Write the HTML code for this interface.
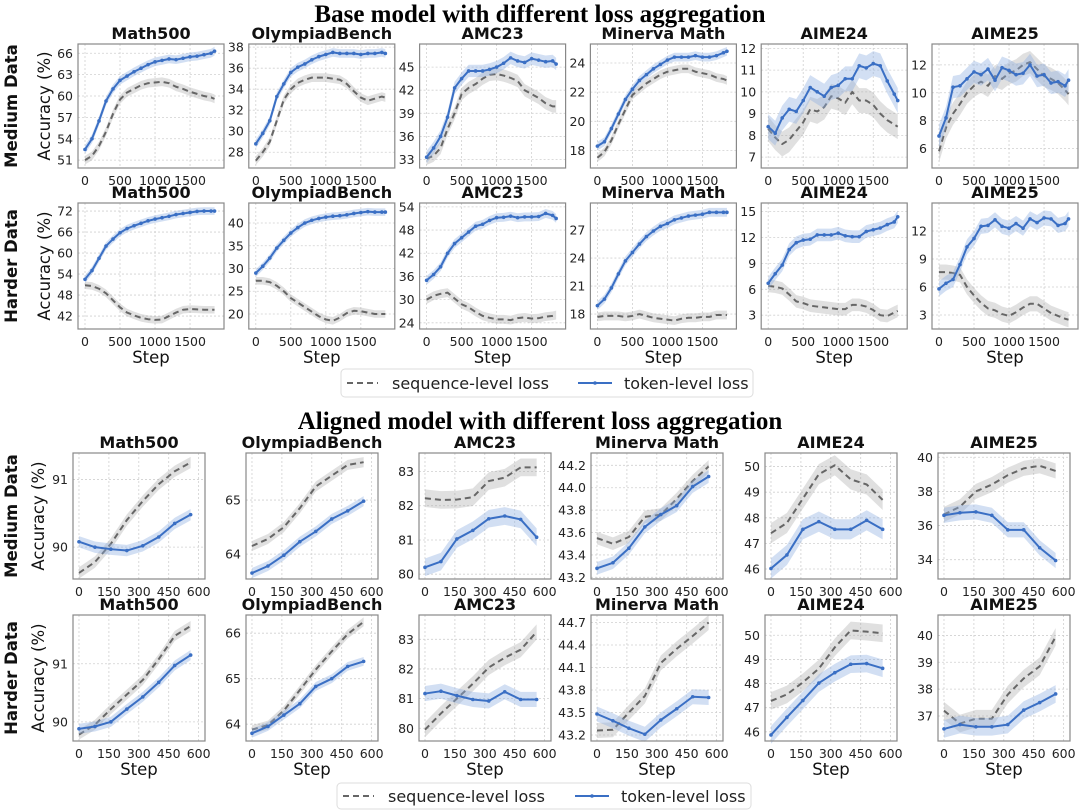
<!DOCTYPE html>
<html><head><meta charset="utf-8"><style>
html,body{margin:0;padding:0;background:#fff;}
svg{display:block;font-family:"DejaVu Sans","Liberation Sans",sans-serif;}
</style></head><body>
<svg id="fig" width="1080" height="811" viewBox="0 0 1080 811" xmlns="http://www.w3.org/2000/svg">
<text x="540" y="22" text-anchor="middle" font-family="Liberation Serif, serif" font-weight="bold" font-size="25">Base model with different loss aggregation</text>
<text x="540" y="429" text-anchor="middle" font-family="Liberation Serif, serif" font-weight="bold" font-size="25">Aligned model with different loss aggregation</text>
<g id="legend1">
<rect x="341" y="369" width="412" height="28" rx="4" fill="#fff" stroke="#ddd"/>
<line x1="347" y1="383" x2="378" y2="383" stroke="#666" stroke-width="2" stroke-dasharray="6,4"/>
<text x="392" y="389" font-size="16" fill="#222">sequence-level loss</text>
<line x1="578" y1="383" x2="612" y2="383" stroke="#3a6fc4" stroke-width="2"/>
<circle cx="595" cy="383" r="1.8" fill="#3a6fc4"/>
<text x="624" y="389" font-size="16" fill="#222">token-level loss</text>
</g>
<g id="legend2">
<rect x="337" y="783" width="414" height="26" rx="4" fill="#fff" stroke="#ddd"/>
<line x1="343" y1="796" x2="374" y2="796" stroke="#666" stroke-width="2" stroke-dasharray="6,4"/>
<text x="388" y="802" font-size="16" fill="#222">sequence-level loss</text>
<line x1="575" y1="796" x2="609" y2="796" stroke="#3a6fc4" stroke-width="2"/>
<circle cx="592" cy="796" r="1.8" fill="#3a6fc4"/>
<text x="621" y="802" font-size="16" fill="#222">token-level loss</text>
</g>
</svg>
<script>
const baseSteps = [0,100,200,300,400,500,600,700,800,900,1000,1100,1200,1300,1400,1500,1600,1700,1800,1850];
const alignSteps = [0,80,160,240,320,400,480,560];
const baseXTicks = [0,500,1000,1500];
const alignXTicks = [0,150,300,450,600];

const bMedMath500Tok = [52.5,54,56.5,59.3,61,62.2,62.8,63.4,63.9,64.4,64.8,65.0,65.2,65.1,65.3,65.5,65.6,65.8,66.0,66.3];
const bMedMath500Seq = [51,51.6,53,55,57.5,59.5,60.5,61,61.5,61.8,61.9,62,61.8,61.3,61,60.6,60.3,60,59.8,59.6];
const bMedMath500Ticks = [51,54,57,60,63,66];
const bMedOlyTok = [28.8,29.8,31,33.3,34.5,35.6,36.1,36.4,36.8,37.1,37.3,37.5,37.4,37.4,37.4,37.3,37.4,37.4,37.5,37.4];
const bMedOlySeq = [27.2,28,29,31,33,34,34.6,34.9,35.1,35.1,35.1,35.0,34.9,34.5,33.8,33.2,32.9,33.1,33.3,33.2];
const bMedOlyTicks = [28,30,32,34,36,38];
const bMedAmcTok = [33.3,34.5,36,38.5,42.3,43.5,44.5,44.5,44.5,44.7,45,45.5,46.2,45.8,45.6,46.1,45.9,45.7,45.8,45.4];
const bMedAmcSeq = [33.1,33.5,34.5,37,39,41.5,42.3,42.8,43.5,44,44.1,43.9,43.6,43.2,42,41.5,41,40.3,39.9,39.9];
const bMedAmcTicks = [33,36,39,42,45];
const bMedMinTok = [18.3,18.6,19.5,20.5,21.5,22.2,22.8,23.2,23.6,23.9,24.2,24.4,24.4,24.4,24.5,24.4,24.4,24.5,24.7,24.8];
const bMedMinSeq = [17.5,17.9,18.7,19.8,20.8,21.8,22.2,22.6,22.9,23.2,23.4,23.5,23.6,23.6,23.4,23.3,23.2,23.0,22.9,22.8];
const bMedMinTicks = [18,20,22,24];
const bMedA24Tok = [8.4,8.1,8.8,9.2,9.1,9.6,10.2,10.0,9.8,10.2,10.3,10.6,10.6,11.2,11.1,11.3,11.2,10.5,9.9,9.6];
const bMedA24Seq = [8.3,7.9,7.6,7.8,8.2,8.6,9.2,9.1,9.3,9.8,9.7,9.5,10.0,9.6,9.6,9.4,9.0,8.7,8.5,8.4];
const bMedA24Ticks = [7,8,9,10,11,12];
const bMedA25Tok = [6.9,8.2,10.4,10.5,11.0,11.5,11.3,11.7,10.9,11.8,11.6,11.3,11.4,12.0,11.2,11.3,10.7,10.8,10.5,10.9];
const bMedA25Seq = [5.8,7.5,8.5,9.2,10.0,10.5,10.8,10.5,11.2,11.0,11.4,11.6,12.0,12.2,11.7,11.2,11.0,10.7,10.2,9.9];
const bMedA25Ticks = [6,8,10,12];

const bHardMath500Tok = [52.5,55,58.5,62,64,65.8,67,67.8,68.5,69.2,69.7,70.1,70.5,71,71.3,71.6,71.9,72,72,72];
const bHardMath500Seq = [50.8,50.6,49.8,48.5,46.5,44.5,43,42.2,41.5,41.1,40.9,41,42,43,43.8,44,43.9,43.8,43.8,43.8];
const bHardMath500Ticks = [42,48,54,60,66,72];
const bHardOlyTok = [29,30.5,32.3,34.5,36.2,37.8,39,40,40.6,41,41.3,41.5,41.6,41.8,42.1,42.3,42.5,42.4,42.4,42.4];
const bHardOlySeq = [27.3,27.3,27,26.2,25,23.5,22.5,21.5,20.5,19.5,18.8,18.5,19.2,20.2,20.7,20.6,20.3,20.0,20.0,20.0];
const bHardOlyTicks = [20,25,30,35,40];
const bHardAmcTok = [35,36.5,38.5,42,44.5,46,47.5,49,49.5,50.5,51.2,51.3,51.6,51.2,51.4,51.4,51.5,52.3,51.8,51.0];
const bHardAmcSeq = [30,31,31.5,31.8,30.3,28.8,28,26.8,25.8,25.3,24.9,24.9,24.7,25.2,25.4,25.1,25.2,25.6,25.8,26.0];
const bHardAmcTicks = [24,30,36,42,48,54];
const bHardMinTok = [18.9,19.6,20.8,22.3,23.7,24.6,25.5,26.3,26.9,27.4,27.7,28.1,28.3,28.5,28.6,28.7,28.9,28.9,28.9,28.9];
const bHardMinSeq = [17.7,17.8,17.8,17.8,17.7,17.8,18.0,17.8,17.6,17.5,17.4,17.3,17.5,17.6,17.6,17.7,17.7,17.9,17.9,17.9];
const bHardMinTicks = [18,21,24,27];
const bHardA24Tok = [6.7,7.8,8.8,10.6,11.4,11.7,11.8,12.3,12.3,12.3,12.5,12.2,12.1,12.1,12.7,12.9,13.1,13.5,13.8,14.4];
const bHardA24Seq = [6.4,6.3,6.1,5.4,4.6,4.4,4.1,4.0,3.9,3.8,3.7,3.7,4.2,4.2,4.0,3.6,3.0,2.9,3.3,3.5];
const bHardA24Ticks = [3,6,9,12,15];
const bHardA25Tok = [5.8,6.4,6.8,8.4,10.3,11.2,12.5,12.6,13.2,12.5,12.3,12.8,12.3,13.3,12.9,13.4,13.3,12.6,12.8,13.3];
const bHardA25Seq = [7.6,7.6,7.5,7.3,6.0,5.1,4.3,3.7,3.5,3.1,2.9,3.3,3.8,4.2,4.2,3.7,3.2,2.9,2.6,2.5];
const bHardA25Ticks = [3,6,9,12];

const aMedMath500Tok = [90.08,90.0,89.97,89.95,90.02,90.15,90.35,90.48];
const aMedMath500Seq = [89.62,89.78,90.05,90.4,90.68,90.93,91.12,91.25];
const aMedMath500Ticks = [90,91];
const aMedOlyTok = [63.65,63.78,63.98,64.23,64.42,64.65,64.8,64.98];
const aMedOlySeq = [64.15,64.28,64.5,64.85,65.25,65.45,65.65,65.7];
const aMedOlyTicks = [64,65];
const aMedAmcTok = [80.2,80.37,81.03,81.28,81.62,81.7,81.6,81.08];
const aMedAmcSeq = [82.22,82.17,82.18,82.25,82.72,82.82,83.12,83.12];
const aMedAmcTicks = [80,81,82,83];
const aMedMinTok = [43.28,43.33,43.46,43.65,43.76,43.84,44.01,44.1];
const aMedMinSeq = [43.55,43.5,43.56,43.74,43.76,43.9,44.06,44.19];
const aMedMinTicks = [43.2,43.4,43.6,43.8,44.0,44.2];
const aMedA24Tok = [46.02,46.55,47.55,47.85,47.55,47.55,47.9,47.55];
const aMedA24Seq = [47.4,47.8,48.75,49.7,50.05,49.5,49.3,48.7];
const aMedA24Ticks = [46,47,48,49,50];
const aMedA25Tok = [36.6,36.75,36.8,36.6,35.75,35.75,34.7,33.95];
const aMedA25Seq = [36.65,37.1,38.0,38.4,38.95,39.35,39.5,39.2];
const aMedA25Ticks = [34,36,38,40];

const aHardMath500Tok = [89.88,89.92,90.0,90.22,90.43,90.68,90.97,91.15];
const aHardMath500Seq = [89.78,89.95,90.22,90.47,90.72,91.08,91.48,91.65];
const aHardMath500Ticks = [90,91];
const aHardOlyTok = [63.8,63.95,64.2,64.45,64.83,65.0,65.27,65.38];
const aHardOlySeq = [63.88,63.98,64.3,64.75,65.2,65.6,65.98,66.25];
const aHardOlyTicks = [64,65,66];
const aHardAmcTok = [81.17,81.25,81.1,80.97,80.92,81.23,80.97,80.97];
const aHardAmcSeq = [79.95,80.5,81.0,81.5,82.05,82.38,82.65,83.25];
const aHardAmcTicks = [80,81,82,83];
const aHardMinTok = [43.48,43.39,43.29,43.21,43.4,43.55,43.71,43.7];
const aHardMinSeq = [43.26,43.27,43.5,43.72,44.16,44.35,44.52,44.7];
const aHardMinTicks = [43.2,43.5,43.8,44.1,44.4,44.7];
const aHardA24Tok = [45.87,46.6,47.3,48.02,48.45,48.8,48.83,48.63];
const aHardA24Seq = [47.28,47.55,48.05,48.62,49.5,50.2,50.15,50.08];
const aHardA24Ticks = [46,47,48,49,50];
const aHardA25Tok = [36.52,36.68,36.6,36.6,36.68,37.22,37.5,37.82];
const aHardA25Seq = [37.2,36.72,36.9,36.9,37.8,38.4,38.85,39.95];
const aHardA25Ticks = [37,38,39,40];

const titles = ['Math500','OlympiadBench','AMC23','Minerva Math','AIME24','AIME25'];
const NS = 'http://www.w3.org/2000/svg';
const svg = document.getElementById('fig');

function mk(tag, attrs, parent){
  const e = document.createElementNS(NS, tag);
  for (const k in attrs) e.setAttribute(k, attrs[k]);
  (parent||svg).appendChild(e);
  return e;
}

const topLayout = {lefts:[78,248.8,419.6,590.4,761.2,932], w:146, xlim:[-100,1985]};
const botLayout = {lefts:[73,246,419,591,765,938], w:132, xlim:[-30,632]};

const panels = [
 {row:[44,168],L:topLayout,c:0,x:baseSteps,tok:bMedMath500Tok,seq:bMedMath500Seq,yt:bMedMath500Ticks,yl:[49.9,67.3],xt:baseXTicks,bw:0.035,dec:0,step:false},
 {row:[44,168],L:topLayout,c:1,x:baseSteps,tok:bMedOlyTok,seq:bMedOlySeq,yt:bMedOlyTicks,yl:[26.5,38.3],xt:baseXTicks,bw:0.035,dec:0,step:false},
 {row:[44,168],L:topLayout,c:2,x:baseSteps,tok:bMedAmcTok,seq:bMedAmcSeq,yt:bMedAmcTicks,yl:[31.9,48],xt:baseXTicks,bw:0.05,dec:0,step:false},
 {row:[44,168],L:topLayout,c:3,x:baseSteps,tok:bMedMinTok,seq:bMedMinSeq,yt:bMedMinTicks,yl:[16.8,25.3],xt:baseXTicks,bw:0.035,dec:0,step:false},
 {row:[44,168],L:topLayout,c:4,x:baseSteps,tok:bMedA24Tok,seq:bMedA24Seq,yt:bMedA24Ticks,yl:[6.5,12.2],xt:baseXTicks,bw:0.1,dec:0,step:false},
 {row:[44,168],L:topLayout,c:5,x:baseSteps,tok:bMedA25Tok,seq:bMedA25Seq,yt:bMedA25Ticks,yl:[4.6,13.5],xt:baseXTicks,bw:0.09,dec:0,step:false},
 {row:[203,329],L:topLayout,c:0,x:baseSteps,tok:bHardMath500Tok,seq:bHardMath500Seq,yt:bHardMath500Ticks,yl:[38.3,74.3],xt:baseXTicks,bw:0.03,dec:0,step:true},
 {row:[203,329],L:topLayout,c:1,x:baseSteps,tok:bHardOlyTok,seq:bHardOlySeq,yt:bHardOlyTicks,yl:[16.7,44.4],xt:baseXTicks,bw:0.03,dec:0,step:true},
 {row:[203,329],L:topLayout,c:2,x:baseSteps,tok:bHardAmcTok,seq:bHardAmcSeq,yt:bHardAmcTicks,yl:[22.4,55],xt:baseXTicks,bw:0.035,dec:0,step:true},
 {row:[203,329],L:topLayout,c:3,x:baseSteps,tok:bHardMinTok,seq:bHardMinSeq,yt:bHardMinTicks,yl:[16.4,29.9],xt:baseXTicks,bw:0.035,dec:0,step:true},
 {row:[203,329],L:topLayout,c:4,x:baseSteps,tok:bHardA24Tok,seq:bHardA24Seq,yt:bHardA24Ticks,yl:[1.4,16],xt:baseXTicks,bw:0.05,dec:0,step:true},
 {row:[203,329],L:topLayout,c:5,x:baseSteps,tok:bHardA25Tok,seq:bHardA25Seq,yt:bHardA25Ticks,yl:[1.5,15],xt:baseXTicks,bw:0.06,dec:0,step:true},
 {row:[453,579],L:botLayout,c:0,x:alignSteps,tok:aMedMath500Tok,seq:aMedMath500Seq,yt:aMedMath500Ticks,yl:[89.53,91.39],xt:alignXTicks,bw:0.045,dec:0,step:false},
 {row:[453,579],L:botLayout,c:1,x:alignSteps,tok:aMedOlyTok,seq:aMedOlySeq,yt:aMedOlyTicks,yl:[63.54,65.87],xt:alignXTicks,bw:0.04,dec:0,step:false},
 {row:[453,579],L:botLayout,c:2,x:alignSteps,tok:aMedAmcTok,seq:aMedAmcSeq,yt:aMedAmcTicks,yl:[79.86,83.54],xt:alignXTicks,bw:0.07,dec:0,step:false},
 {row:[453,579],L:botLayout,c:3,x:alignSteps,tok:aMedMinTok,seq:aMedMinSeq,yt:aMedMinTicks,yl:[43.185,44.31],xt:alignXTicks,bw:0.05,dec:1,step:false},
 {row:[453,579],L:botLayout,c:4,x:alignSteps,tok:aMedA24Tok,seq:aMedA24Seq,yt:aMedA24Ticks,yl:[45.61,50.53],xt:alignXTicks,bw:0.08,dec:0,step:false},
 {row:[453,579],L:botLayout,c:5,x:alignSteps,tok:aMedA25Tok,seq:aMedA25Seq,yt:aMedA25Ticks,yl:[32.87,40.25],xt:alignXTicks,bw:0.06,dec:0,step:false},
 {row:[615,741],L:botLayout,c:0,x:alignSteps,tok:aHardMath500Tok,seq:aHardMath500Seq,yt:aHardMath500Ticks,yl:[89.67,91.84],xt:alignXTicks,bw:0.04,dec:0,step:true},
 {row:[615,741],L:botLayout,c:1,x:alignSteps,tok:aHardOlyTok,seq:aHardOlySeq,yt:aHardOlyTicks,yl:[63.63,66.4],xt:alignXTicks,bw:0.035,dec:0,step:true},
 {row:[615,741],L:botLayout,c:2,x:alignSteps,tok:aHardAmcTok,seq:aHardAmcSeq,yt:aHardAmcTicks,yl:[79.57,83.82],xt:alignXTicks,bw:0.06,dec:0,step:true},
 {row:[615,741],L:botLayout,c:3,x:alignSteps,tok:aHardMinTok,seq:aHardMinSeq,yt:aHardMinTicks,yl:[43.12,44.8],xt:alignXTicks,bw:0.06,dec:1,step:true},
 {row:[615,741],L:botLayout,c:4,x:alignSteps,tok:aHardA24Tok,seq:aHardA24Seq,yt:aHardA24Ticks,yl:[45.62,50.84],xt:alignXTicks,bw:0.07,dec:0,step:true},
 {row:[615,741],L:botLayout,c:5,x:alignSteps,tok:aHardA25Tok,seq:aHardA25Seq,yt:aHardA25Ticks,yl:[36.07,40.76],xt:alignXTicks,bw:0.07,dec:0,step:true}
];

panels.forEach((p, i) => {
  const x0 = p.L.lefts[p.c], x1 = x0 + p.L.w, y0 = p.row[0], y1 = p.row[1];
  const xs = v => x0 + (v - p.L.xlim[0]) / (p.L.xlim[1] - p.L.xlim[0]) * (x1 - x0);
  const ys = v => y1 - (v - p.yl[0]) / (p.yl[1] - p.yl[0]) * (y1 - y0);
  const g = mk('g', {});
  
  
  p.yt.forEach(t => {
    const yy = ys(t);
    const gl = mk('line', {x1:x0, x2:x1, y1:yy, y2:yy, stroke:'#d0d0d0', 'stroke-width':0.8, 'stroke-dasharray':'2,2'}, g);
    
    
    const tl = mk('text', {x:x0 - 5, y:yy + 4.5, 'text-anchor':'end', 'font-size':12.5, fill:'#222'}, g);
    tl.textContent = t.toFixed(p.dec);
    
    
  });
  p.xt.forEach(t => {
    const xx = xs(t);
    const gl = mk('line', {x1:xx, x2:xx, y1:y0, y2:y1, stroke:'#d0d0d0', 'stroke-width':0.8, 'stroke-dasharray':'2,2'}, g);
    
    
    const tl = mk('text', {x:xx, y:y1 + 17, 'text-anchor':'middle', 'font-size':12.5, fill:'#222'}, g);
    tl.textContent = t;
    
    
  });
  const bw = p.bw * (p.yl[1] - p.yl[0]);
  [['seq', p.seq, '#999', '#666'], ['tok', p.tok, '#8fb0e0', '#3a6fc4']].forEach(([nm, arr, bandCol, col]) => {
    const up = arr.map((v, k) => xs(p.x[k]) + ',' + ys(v + bw));
    const dn = arr.map((v, k) => xs(p.x[k]) + ',' + ys(v - bw)).reverse();
    const band = mk('polygon', {points: up.concat(dn).join(' '), fill: bandCol, 'fill-opacity': nm === 'seq' ? 0.3 : 0.4, stroke:'none'}, g);
    
    
    const d = arr.map((v, k) => (k ? 'L' : 'M') + xs(p.x[k]).toFixed(2) + ',' + ys(v).toFixed(2)).join(' ');
    const attrs = {d: d, fill:'none', stroke: col, 'stroke-width': 2, 'stroke-linejoin':'round'};
    if (nm === 'seq') attrs['stroke-dasharray'] = '6,4';
    const line = mk('path', attrs, g);
    
    
    if (nm === 'tok') {
      arr.forEach((v, k) => {
        const c = mk('circle', {cx: xs(p.x[k]), cy: ys(v), r: 1.8, fill: col}, g);
        
        
      });
    }
  });
  const box = mk('rect', {x:x0, y:y0, width:x1 - x0, height:y1 - y0, fill:'none', stroke:'#888', 'stroke-width':1.2}, g);
  
  
  const tt = mk('text', {x:(x0 + x1) / 2, y:y0 - 5, 'text-anchor':'middle', 'font-size':16, 'font-weight':'bold', fill:'#111'}, g);
  tt.textContent = titles[p.c];
  
  
  if (p.step) {
    const st = mk('text', {x:(x0 + x1) / 2, y:y1 + 34, 'text-anchor':'middle', 'font-size':16.5, fill:'#111'}, g);
    st.textContent = 'Step';
    
    
  }
  if (p.c === 0) {
    const cy = (y0 + y1) / 2;
    const ax = p.L === topLayout ? 50 : 44;
    const at = mk('text', {x:ax, y:cy, 'text-anchor':'middle', 'font-size':16.5, fill:'#111', transform:'rotate(-90 ' + ax + ' ' + cy + ')'}, g);
    at.textContent = 'Accuracy (%)';
    
    
    const isMed = (y0 === 44 || y0 === 453);
    const rl = mk('text', {x:17, y:cy, 'text-anchor':'middle', 'font-size':16.5, 'font-weight':'bold', fill:'#111', transform:'rotate(-90 17 ' + cy + ')'}, g);
    rl.textContent = isMed ? 'Medium Data' : 'Harder Data';
    
    
  }
});
</script>
</body></html>
